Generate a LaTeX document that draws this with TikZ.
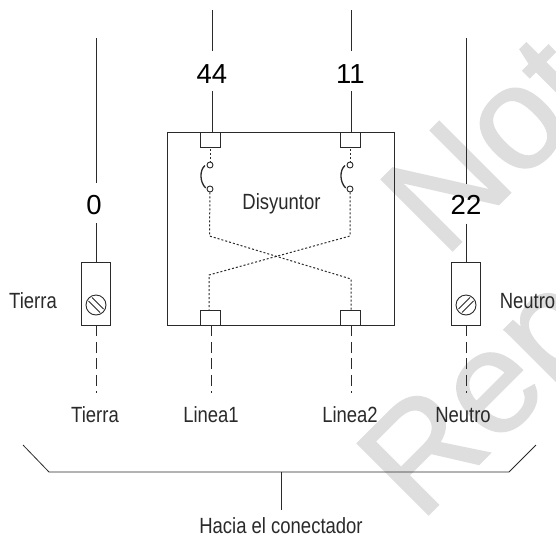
\documentclass[tikz,border=0pt]{standalone}
\usepackage{fontspec}
\usetikzlibrary{calc}
\setmainfont[FakeStretch=0.84]{Liberation Sans}
\newfontfamily\bignum{Liberation Sans}
\newfontfamily\wmfont[FakeBold=1.2]{Liberation Sans}
\definecolor{ink}{HTML}{2A2A2A}
\definecolor{wm}{HTML}{DEDEDE}
\tikzset{
 wire/.style={draw=ink,line width=0.95pt},
 dots/.style={draw=ink,line width=1pt,dash pattern=on 2pt off 2pt},
 longdash/.style={draw=ink,line width=1pt,dash pattern=on 11pt off 5.5pt},
 terminal/.style={draw=ink,line width=0.95pt,fill=white,rectangle,minimum width=19.5pt,minimum height=15pt,inner sep=0pt},
 contact/.style={draw=ink,line width=0.9pt,fill=white,circle,minimum size=6pt,inner sep=0pt},
 clamp/.style={draw=ink,line width=0.95pt,fill=white,rectangle,minimum width=29pt,minimum height=63pt,inner sep=0pt},
 screw/.style={draw=ink,line width=0.9pt,circle,minimum size=20pt,inner sep=0pt},
 lab/.style={text=ink,font=\fontsize{22pt}{24pt}\selectfont,inner sep=0pt,anchor=base},
 num/.style={text=black,font=\bignum\fontsize{27.5pt}{29pt}\selectfont,inner sep=0pt,anchor=base},
 wmark/.style={text=wm,font=\wmfont\fontsize{146pt}{146pt}\selectfont,inner sep=0pt,anchor=base west}
}
\begin{document}
\begin{tikzpicture}[x=1pt,y=-1pt]
\useasboundingbox[fill=white] (0,0) rectangle (556,536);
\begin{scope}
\clip (0,0) rectangle (556,536);
\node[wmark,rotate=45] (wmA) at (444,259) {Not};
\node[wmark,rotate=45] (wmB) at (420,523) {Rep};
\end{scope}
% breaker
\node[draw=ink,line width=0.95pt,rectangle,minimum width=227pt,minimum height=193pt,inner sep=0pt] (box) at (280.5,228.5) {};
\node[lab] (dis) at (281.5,209) {Disyuntor};
\node[terminal] (t44) at (210.7,139.5) {};
\node[terminal] (t11) at (350.7,139.5) {};
\node[terminal] (b1) at (210.7,317.5) {};
\node[terminal] (b2) at (350.7,317.5) {};
\node[contact] (c1a) at (210,165) {};
\node[contact] (c1b) at (210,189) {};
\node[contact] (c2a) at (350,165) {};
\node[contact] (c2b) at (350,189) {};
\coordinate (s1) at (210,149);
\coordinate (s2) at (350,149);
\draw[dots] (s1) -- (c1a);
\draw[dots] (s2) -- (c2a);
\coordinate (k1) at (209.5,236);
\coordinate (k2) at (350,236);
\coordinate (k3) at (209,275);
\coordinate (k4) at (351,279);
\draw[dots] (c1b) -- (k1) -- (k4) -- (b2.north -| k4);
\draw[dots] (c2b) -- (k2) -- (k3) -- (b1.north -| k3);
\coordinate (a1) at (205,165.5);
\coordinate (a2) at (205.7,188);
\coordinate (a3) at (345,165.5);
\coordinate (a4) at (345.7,188);
\draw[wire,line width=1.3pt] (a1) .. controls (199.5,170) and (199.5,182) .. (a2);
\draw[wire,line width=1.3pt] (a3) .. controls (339.5,170) and (339.5,182) .. (a4);
% top wires
\node[num] (n44) at (212,83) {44};
\node[num] (n11) at (350.5,83) {11};
\coordinate (top44) at (212,10);
\coordinate (g44a) at (212,51);
\coordinate (g44b) at (212,91);
\coordinate (top11) at (351,10);
\coordinate (g11a) at (351,51);
\coordinate (g11b) at (351,91);
\draw[wire] (top44) -- (g44a);
\draw[wire] (g44b) -- (t44.north -| g44b);
\draw[wire] (top11) -- (g11a);
\draw[wire] (g11b) -- (t11.north -| g11b);
% clamps
\node[clamp] (cl) at (95.5,293.5) {};
\node[clamp] (cr) at (465.5,293.5) {};
\node[screw] (sl) at (96,305) {};
\node[screw] (sr) at (466,305) {};
\draw[wire,line width=0.8pt] ($(sl)+(-7.5,-4)$) -- ($(sl)+(4,7.5)$);
\draw[wire,line width=0.8pt] ($(sl)+(-4,-7.5)$) -- ($(sl)+(7.5,4)$);
\draw[wire,line width=0.8pt] ($(sr)+(-7.5,4)$) -- ($(sr)+(4,-7.5)$);
\draw[wire,line width=0.8pt] ($(sr)+(-4,7.5)$) -- ($(sr)+(7.5,-4)$);
\node[num] (n0) at (94,214) {0};
\node[num] (n22) at (466,214) {22};
\coordinate (topL) at (96,38);
\coordinate (gLa) at (96,183);
\coordinate (gLb) at (96,223);
\coordinate (topR) at (466,38);
\coordinate (gRa) at (466,183.5);
\coordinate (gRb) at (466,223.5);
\draw[wire] (topL) -- (gLa);
\draw[wire] (gLb) -- (cl.north -| gLb);
\draw[wire] (topR) -- (gRa);
\draw[wire] (gRb) -- (cr.north -| gRb);
\node[lab] (tl) at (33,308) {Tierra};
\node[lab] (nr) at (527.5,308) {Neutro};
% lower labels
\node[lab] (l0) at (95,422) {Tierra};
\node[lab] (l1) at (211,422) {Linea1};
\node[lab] (l2) at (350,422) {Linea2};
\node[lab] (l3) at (463,422) {Neutro};
\coordinate (dL) at (96,393);
\coordinate (d1) at (211,393);
\coordinate (d2) at (351,393);
\coordinate (dR) at (466,393);
\draw[longdash] (cl.south -| dL) -- (dL);
\draw[longdash] (b1.south -| d1) -- (d1);
\draw[longdash] (b2.south -| d2) -- (d2);
\draw[longdash] (cr.south -| dR) -- (dR);
% bracket
\coordinate (e1) at (23,445);
\coordinate (e2) at (49,472);
\coordinate (e3) at (509,472);
\coordinate (e4) at (536,445);
\coordinate (st) at (281,472);
\coordinate (sb) at (281,510);
\node[lab] (hc) at (281,533) {Hacia el conectador};
\draw[wire,line width=0.8pt] (e1) -- (e2) -- (e3) -- (e4);
\draw[wire] (st) -- (sb);
\end{tikzpicture}
\end{document}
